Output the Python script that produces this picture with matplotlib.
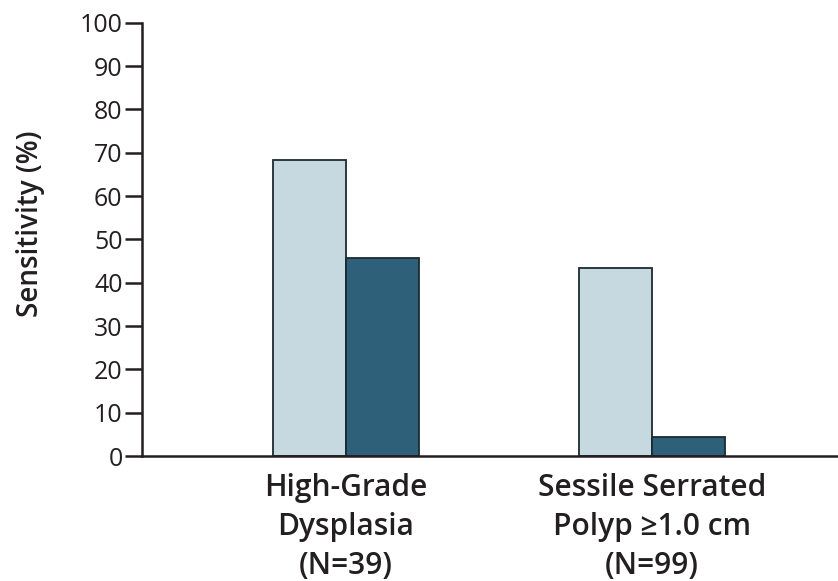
import matplotlib
matplotlib.use("Agg")
import matplotlib.pyplot as plt
import numpy as np

plt.rcParams['font.family'] = ['Open Sans', 'DejaVu Sans']

categories = ["High-Grade\nDysplasia\n(N=39)", "Sessile Serrated\nPolyp \u22651.0 cm\n(N=99)"]
# series order per group: light bar, dark bar
light_vals = [68.4, 43.5]
dark_vals = [45.7, 4.3]
yticks = list(range(0, 101, 10))

fig = plt.figure(figsize=(8.38, 5.81), dpi=100)
W, H = 838, 581
ax = fig.add_axes([142 / W, 1 - 456 / H, (838 - 142) / W, (456 - 22.7) / H])

x = np.arange(len(categories))
w = 0.238
ax.bar(x - w / 2, light_vals, width=w, color="#c6d9e1", edgecolor="#1e2a30", linewidth=1.3, zorder=2)
ax.bar(x + w / 2, dark_vals, width=w, color="#2f6079", edgecolor="#1e2a30", linewidth=1.3, zorder=2)

ax.set_xlim(-0.667, 1.608)
ax.set_ylim(0, 100)
ax.set_yticks(yticks)
ax.set_yticklabels([str(t) for t in yticks], fontsize=18, color="#231f20")
ax.set_xticks(x)
ax.set_xticklabels(categories, fontsize=21.5, fontweight="semibold", color="#231f20", linespacing=1.39)
ax.tick_params(axis='x', length=0, pad=12)
ax.tick_params(axis='y', length=12, width=1.8, color="#231f20", pad=2)
for s in ["top", "right"]:
    ax.spines[s].set_visible(False)
for s in ["left", "bottom"]:
    ax.spines[s].set_linewidth(1.8)
    ax.spines[s].set_color("#231f20")
ax.set_ylabel("Sensitivity (%)", fontsize=20, fontweight="semibold", color="#231f20")
ax.yaxis.set_label_coords(-0.14, 0.535)

fig.savefig("out.png", dpi=100)
